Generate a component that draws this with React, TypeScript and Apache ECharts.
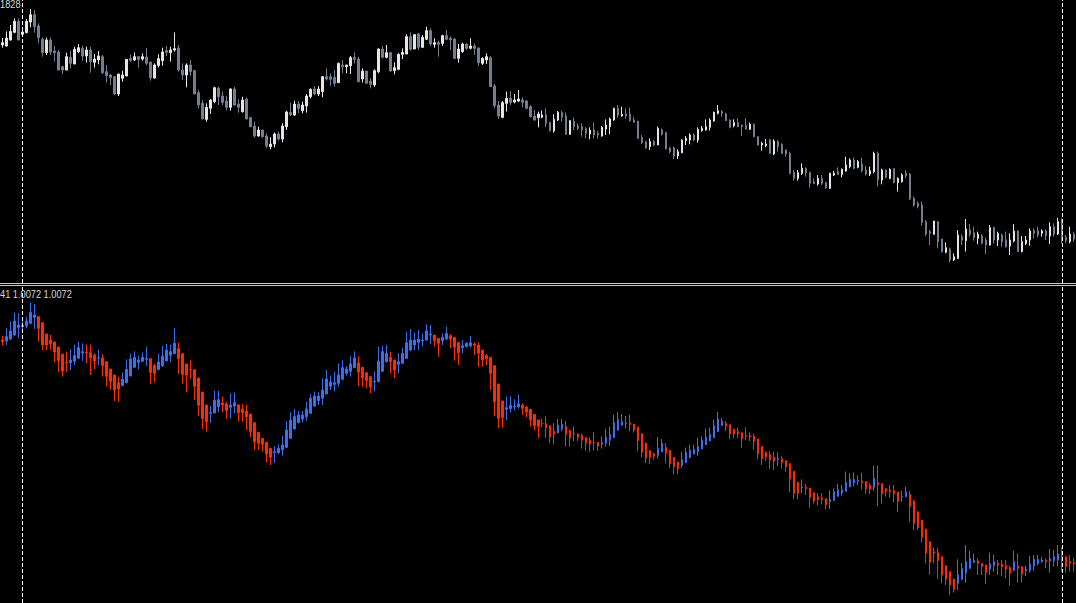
import React, { useEffect, useRef } from "react";
import * as echarts from "echarts";

// ---------- Top panel (price candles), values in points ----------
const topOpen = [
  865,862,880,903,936,897,902,934,956,922, 882,842,880,847,844,800,790,828,808,845,
  855,832,850,813,820,830,785,775,770,718, 765,772,824,820,830,823,829,814,766,804,
  818,848,842,850,856,790,775,805,788,722, 690,642,675,695,736,712,697,678,733,688,
  665,703,647,622,592,610,592,560,568,598, 583,620,663,655,688,668,682,710,733,718,
  725,770,770,768,752,805,800,803,827,823, 763,787,757,745,785,853,828,842,788,792,
  837,838,890,853,898,858,882,908,867,872, 870,893,885,883,825,845,868,855,862,856,
  810,820,827,742,685,648,690,705,694,697, 700,697,680,652,647,648,655,632,607,640,
  663,653,597,636,622,620,614,598,610,600, 592,613,620,640,675,652,658,658,640,637,
  587,575,560,575,565,610,602,555,557,532, 542,578,580,595,580,608,610,618,637,660,
  665,658,640,623,632,625,623,612,627,590, 565,563,580,538,575,567,550,540,482,465,
  480,495,483,455,448,465,452,435,475,485, 477,487,500,520,498,508,490,478,485,540,
  460,490,465,494,452,455,480,478,405,390, 385,335,305,297,335,283,243,253,220,225,
  290,278,310,302,285,292,280,265,317,280, 295,280,262,277,307,245,270,280,308,308,
  300,307,292,320,298,342,288,275,298
];
const topClose = [
  872,886,906,936,880,904,936,956,920,887, 842,880,844,842,790,790,830,810,852,857,
  832,850,815,823,832,782,773,767,718,778, 775,822,819,830,822,830,810,766,805,824,
  844,843,850,854,790,775,805,785,718,685, 643,678,700,737,710,693,678,733,685,678,
  700,643,620,592,610,590,562,568,598,583, 622,664,655,688,675,685,712,732,718,733,
  770,763,762,750,810,800,805,827,822,755, 787,750,747,788,853,828,842,787,797,837,
  843,890,852,896,858,888,908,868,872,867, 893,882,880,825,853,868,855,862,855,812,
  825,830,740,683,652,692,705,693,700,703, 693,675,650,640,658,655,630,608,642,663,
  648,597,638,620,615,610,600,610,595,595, 618,625,643,675,655,657,652,638,633,585,
  572,557,575,565,615,597,553,545,532,545, 580,585,595,580,612,615,620,640,663,668,
  660,638,618,632,620,620,613,627,590,565, 570,568,540,577,560,540,538,480,465,482,
  495,482,450,450,465,450,437,480,480,477, 492,505,520,495,515,488,478,488,540,460,
  490,468,492,452,465,475,472,403,385,380, 333,298,300,337,275,245,257,220,230,295,
  280,313,297,287,297,270,265,317,280,300, 275,260,280,307,245,275,280,307,300,295,
  307,293,320,298,335,285,278,298,283
];
const topHigh = [
  886,906,925,945,945,915,943,973,970,930, 888,887,888,862,850,803,842,848,860,868,
  863,860,860,838,847,835,805,778,772,778, 788,822,837,843,832,840,855,814,810,837,
  857,862,860,903,865,810,810,820,790,730, 700,690,702,740,740,725,712,735,740,702,
  710,707,650,635,620,610,600,588,602,605, 630,668,692,698,697,695,718,735,742,742,
  772,795,780,790,812,820,805,832,843,830, 795,787,765,792,855,862,865,845,813,840,
  855,897,903,896,902,895,920,915,885,878, 896,910,890,885,868,872,870,885,870,858,
  828,840,832,748,697,697,725,727,718,730, 708,700,685,670,665,668,675,635,657,667,
  668,663,640,648,630,630,618,618,633,607, 622,642,647,677,685,680,675,678,650,637,
  595,578,585,580,620,615,605,560,560,552, 582,592,600,600,618,622,642,645,665,685,
  670,662,642,642,645,625,645,632,630,592, 575,583,583,582,580,570,552,545,490,490,
  510,498,485,465,475,475,455,482,487,498, 495,530,525,528,520,527,502,500,545,545,
  494,492,495,495,468,480,490,480,410,395, 395,340,310,337,337,283,273,257,240,310,
  297,343,328,320,305,298,288,325,320,305, 300,305,300,328,310,292,292,315,315,320,
  312,312,333,330,347,345,295,320,305
];
const topLow = [
  857,860,878,900,880,892,900,918,902,870, 830,835,835,815,790,778,790,795,808,840,
  818,812,782,797,807,778,752,745,715,712, 755,772,814,817,797,818,805,758,764,798,
  803,832,815,845,785,760,738,772,718,675, 642,635,658,690,685,685,668,668,682,662,
  662,642,618,587,590,587,555,552,558,578, 573,610,652,652,660,660,662,705,714,712,
  708,758,743,740,752,780,780,778,810,753, 752,748,735,740,780,825,825,785,777,790,
  823,838,848,853,850,856,880,862,857,830, 862,880,850,822,812,842,850,852,835,802,
  805,808,740,675,643,645,665,685,690,694, 678,672,647,638,618,645,618,605,602,637,
  635,595,595,610,610,590,585,582,585,584, 590,595,597,638,647,650,643,635,632,583,
  568,553,550,562,565,593,552,540,523,523, 540,565,567,577,572,605,608,608,635,657,
  650,637,615,618,618,593,612,610,588,563, 548,558,538,535,545,538,530,477,458,458,
  475,470,437,447,443,445,433,433,472,475, 468,485,495,492,495,483,473,472,480,440,
  447,465,462,450,425,452,465,400,380,375, 323,292,265,297,255,242,240,212,217,223,
  265,245,290,278,267,267,238,263,270,262, 260,257,235,273,245,243,265,263,285,288,
  290,280,268,290,295,270,270,270,275
];

// ---------- Bottom panel (smoothed candles), values in points ----------
const botOpen = [
  980,977,983,995,1018,1020,1022,1030,1048,1050,1032,998,980,
  974,959,938,913,912,916,925,941,943,942, 935,926,926,915,893,875,852,843,852,872,
  898,913,916,922,924,903,891,903,917,934, 939,954,939,908,892,891,866,824,785,760,
  761,780,791,788,
  778,782,785,773,767,758,732,703,685,673, 655,642,642,650,658,685,713,732,743,750,
  760,782,798,805,
  818,841,847,850,862,880,886,897,911,898, 882,870,854,855,
  886,915,928,920,907,910,925,950,965,973, 977,980,995,995,985,978,983,992,988,973,
  957,960,962,968,965,950,933,928,
  903,848,797,772,774,779,780,784,779,772, 757,740,730,729,723,706,701,713,720,709,
  697,698,693,687,679,673,673,667,670,679, 687,709,725,730,731,728,719,699,671,648,
  638,634,645,657,649,628,614,604,612,627, 638,645,653,666,677,687,705,724,730,726,
  712,705,702,693,693,691,683,661,643,636, 628,622,624,618,609,586,553,537,538,536,
  522,510,505,504,495,498,511,521,526,539, 551,556,557,555,544,538,552,549,534,530,
  528,524,510,510,517,
  497,465,440,413,375,345,342,330,303,285, 263,250,262,282,295,313,317,310,305,293,
  303,310,307,303,297,288,302,300,288,288, 302,310,315,320,317,318,320,332,330,315,
  312
];
const botClose = [
  975,990,1007,1037,1025,1025,1037,1063,1055,1015,965,965,968,
  944,918,887,911,920,933,957,945,941,927, 917,927,903,871,856,830,833,862,892,923,
  928,920,928,925,882,880,914,932,950,945, 970,924,877,875,890,841,784,744,735,762,
  799,801,785,768,
  785,792,762,762,750,705,675,670,667,638, 628,645,655,665,710,740,750,755,755,773,
  805,812,812,830,
  863,854,852,875,897,893,908,926,884,866, 859,839,856,917,
  945,940,915,890,915,940,972,980,980,983, 980,1007,998,978,970,988,1000,983,958,942,
  963,970,972,964,940,920,923,880,
  795,745,747,777,784,781,788,775,764,741, 723,720,728,717,689,697,725,727,697,686,
  698,688,680,671,668,672,662,672,688,697, 732,741,735,731,726,710,678,643,626,628,
  631,655,670,640,608,600,594,621,643,649, 652,660,680,689,697,723,743,736,721,698,
  698,698,684,692,689,676,639,624,629,620, 617,625,612,599,563,520,520,539,534,508,
  497,501,502,486,501,525,531,531,553,562, 561,559,552,534,532,565,546,519,526,526,
  519,496,511,524,480,
  430,417,388,340,313,340,318,275,263,245, 232,275,295,315,325,318,310,300,282,308,
  315,305,300,292,280,315,295,278,293,308, 322,322,320,315,323,330,338,327,300,310,
  308
];
const botHigh = [
  993,1015,1035,1062,1060,1050,1050,1092,1088,1050,1032,998,995,
  974,959,938,945,952,966,975,970,966,966, 940,951,937,915,893,875,870,882,922,939,
  946,933,943,960,924,908,939,963,968,966, 1016,972,939,908,919,891,866,824,785,783,
  827,827,810,795,
  820,822,788,788,785,758,732,703,685,673, 655,662,667,692,737,763,773,767,767,795,
  818,825,823,865,
  890,873,885,910,919,902,933,946,931,898, 882,870,886,960,
  962,965,945,920,940,957,1005,1013,1002,1010, 1000,1028,1025,995,985,1000,1020,998,988,973,
  980,973,992,973,973,950,938,928,
  903,848,797,810,812,802,816,790,782,772, 757,740,744,752,723,731,743,744,738,709,
  721,700,700,687,687,704,674,691,714,720, 755,764,758,752,756,728,719,699,671,648,
  642,689,683,671,649,628,614,645,657,666, 666,687,691,714,717,741,764,746,737,726,
  714,717,702,718,703,700,683,661,646,646, 645,643,631,618,609,586,553,562,548,536,
  522,521,521,504,529,535,548,545,585,580, 583,574,582,555,550,603,603,549,534,545,
  545,524,528,539,527,
  500,465,440,413,375,357,357,330,303,285, 263,322,312,365,347,340,325,310,305,342,
  337,320,320,320,303,348,340,300,303,332, 335,335,330,325,353,350,365,357,330,335,
  327
];
const botLow = [
  963,965,980,993,985,1012,1015,1027,1013,975,950,950,950,
  913,884,870,884,890,905,925,917,910,875, 892,904,870,840,831,797,793,843,852,872,
  898,892,916,902,847,854,891,899,917,913, 939,878,849,823,863,800,751,713,705,732,
  761,763,763,743,
  745,760,735,735,710,688,650,650,645,612, 605,612,638,633,657,682,712,730,732,738,
  758,780,785,785,
  818,830,826,840,862,873,870,897,841,840, 835,820,826,855,
  885,912,880,865,880,908,923,947,950,950, 960,978,967,960,930,965,980,955,918,905,
  940,958,957,935,900,900,905,830,
  751,715,717,740,763,769,774,755,748,720, 709,686,717,686,671,667,701,706,660,660,
  677,677,654,648,645,648,647,654,660,662, 687,709,723,715,706,702,646,628,611,608,
  621,625,645,610,596,577,577,596,612,627, 638,633,653,666,677,687,705,723,707,683,
  686,686,657,679,677,651,622,605,617,594, 590,602,594,585,524,502,502,521,515,477,
  489,484,487,473,473,498,511,513,526,539, 541,545,531,519,518,527,481,489,510,507,
  493,464,495,510,434,
  410,410,372,310,275,310,263,250,245,215, 222,230,260,252,293,310,275,275,248,275,
  285,275,272,265,242,287,252,252,272,282, 288,303,312,295,282,300,302,285,282,285,
  285
];

const barIndex = topOpen.map((_, i) => String(i));
const separators = [5, 265];
const topLabel = "1828";
const bottomLabel = "41 1.0072 1.0072";

const BULL = "#e6e6e6";
const BEAR = "#708090";
const UP = "#3b6ff0";
const DOWN = "#ff2a00";
const LABEL_FONT = "'Liberation Sans', Arial, sans-serif";

export default function App() {
  const ref = useRef<HTMLDivElement>(null);
  useEffect(() => {
    document.body.style.margin = "0";
    document.body.style.background = "#000";
    const chart = echarts.init(ref.current!, undefined, { renderer: "svg" });
    const topData = topOpen.map((o, i) => [o, topClose[i], topLow[i], topHigh[i]]);
    const botData = botOpen.map((o, i) => [o, botClose[i], botLow[i], botHigh[i]]);
    const sepLine = {
      symbol: "none",
      silent: true,
      label: { show: false },
      lineStyle: { color: "#ffffff", type: [4, 2], width: 1, opacity: 1 },
      emphasis: { disabled: true },
      data: separators.map((s) => ({ xAxis: s })),
    };
    chart.setOption({
      animation: false,
      backgroundColor: "#000000",
      grid: [
        { left: 0.5, top: 0, width: 1076, height: 283 },
        { left: 0.5, top: 286, width: 1076, height: 317 },
      ],
      xAxis: [
        { type: "category", data: barIndex, gridIndex: 0, show: false },
        { type: "category", data: barIndex, gridIndex: 1, show: false },
      ],
      yAxis: [
        { type: "value", gridIndex: 0, min: 151, max: 1000, show: false },
        { type: "value", gridIndex: 1, min: 191, max: 1142, show: false },
      ],
      series: [
        {
          type: "candlestick",
          xAxisIndex: 0,
          yAxisIndex: 0,
          data: topData,
          barWidth: 2,
          itemStyle: { color: BULL, color0: BEAR, borderColor: BULL, borderColor0: BEAR, borderWidth: 1 },
          markLine: sepLine,
        },
        {
          type: "candlestick",
          xAxisIndex: 1,
          yAxisIndex: 1,
          data: botData,
          barWidth: 2,
          itemStyle: { color: UP, color0: DOWN, borderColor: UP, borderColor0: DOWN, borderWidth: 1 },
          markLine: sepLine,
        },
      ],
      graphic: [
        { type: "line", shape: { x1: 0, y1: 283.5, x2: 1076, y2: 283.5 }, style: { stroke: "#c8c8c8", lineWidth: 1 } },
        { type: "line", shape: { x1: 0, y1: 285.5, x2: 1076, y2: 285.5 }, style: { stroke: "#c8c8c8", lineWidth: 1 } },
        {
          type: "text",
          x: 0,
          y: -1,
          scaleX: 0.84,
          style: { text: topLabel, fill: "#d8d8d8", fontSize: 11, fontFamily: LABEL_FONT, verticalAlign: "top", align: "left" },
        },
        {
          type: "text",
          x: 0,
          y: 289,
          scaleX: 0.84,
          style: { text: bottomLabel, fill: "#d8d8d8", fontSize: 11, fontFamily: LABEL_FONT, verticalAlign: "top", align: "left" },
        },
      ],
    });
    return () => chart.dispose();
  }, []);
  return (
    <div
      ref={ref}
      style={{ position: "fixed", left: 0, top: 0, width: 1076, height: 603, background: "#000" }}
    />
  );
}
